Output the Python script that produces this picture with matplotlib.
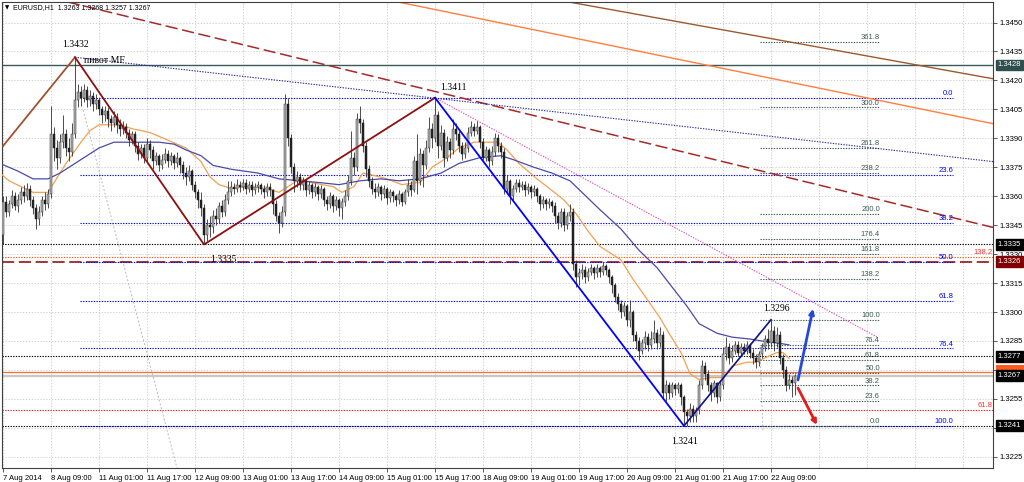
import numpy as np
import matplotlib
matplotlib.use('Agg')
import matplotlib.pyplot as plt
from matplotlib.transforms import blended_transform_factory
from matplotlib.patches import Rectangle

# ---------------- data (prices in pips: 3357 -> 1.3357) ----------------
first_open = 3340
closes = [
    3357, 3352, 3356, 3360, 3355, 3358, 3362, 3360, 3364, 3358,
    3354, 3348, 3352, 3358, 3356, 3361, 3392, 3385, 3380, 3388,
    3392, 3385, 3383, 3392, 3410, 3414, 3411, 3415, 3410, 3412,
    3408, 3410, 3405, 3402, 3404, 3400, 3398, 3401, 3397, 3395,
    3396, 3393, 3389, 3392, 3386, 3382, 3385, 3380, 3387, 3384,
    3378, 3381, 3376, 3379, 3382, 3378, 3381, 3377, 3380, 3376,
    3372, 3370, 3373, 3366, 3362, 3358, 3354, 3340, 3345, 3344,
    3350, 3348, 3355, 3352, 3358, 3362, 3365, 3364, 3366, 3365,
    3367, 3364, 3366, 3363, 3365, 3366, 3364, 3362, 3365, 3363,
    3356, 3350, 3346, 3352, 3408, 3390, 3375, 3368, 3370, 3366,
    3368, 3363, 3366, 3362, 3365, 3361, 3364, 3358, 3356, 3360,
    3355, 3358, 3354, 3357, 3360, 3368, 3380, 3375, 3400, 3398,
    3386, 3374, 3368, 3364, 3362, 3365, 3361, 3364, 3359, 3362,
    3360, 3358, 3361, 3357, 3362, 3366, 3363, 3378, 3368, 3382,
    3376, 3385, 3395, 3390, 3402, 3386, 3393, 3380, 3388, 3384,
    3395, 3392, 3386, 3382, 3385, 3393, 3396, 3394, 3396, 3388,
    3380, 3384, 3378, 3383, 3390, 3386, 3383, 3364, 3368, 3360,
    3364, 3367, 3365, 3366, 3363, 3365, 3362, 3364, 3360, 3356,
    3358, 3356, 3357, 3355, 3350, 3346, 3352, 3345, 3350, 3352,
    3325, 3318, 3320, 3322, 3318, 3321, 3323, 3320, 3323, 3321,
    3324, 3322, 3318, 3314, 3308, 3304, 3300, 3303, 3296, 3300,
    3288, 3285, 3280, 3284, 3287, 3283, 3286, 3289, 3284, 3288,
    3258, 3262, 3258, 3262, 3260, 3262, 3256, 3248, 3246, 3250,
    3246, 3249, 3262, 3272, 3268, 3262, 3258, 3263, 3256, 3262,
    3278, 3282, 3276, 3280, 3283, 3279, 3282, 3280, 3283, 3279,
    3276, 3274, 3278, 3282, 3286, 3284, 3290, 3284, 3288, 3276,
    3270, 3262, 3265, 3263, 3267]
highs = [
    3360, 3360, 3358, 3363, 3362, 3361, 3365, 3366, 3367, 3366,
    3360, 3356, 3355, 3360, 3362, 3364, 3407, 3396, 3389, 3392,
    3402, 3395, 3390, 3398, 3432, 3418, 3417, 3418, 3417, 3415,
    3414, 3413, 3411, 3407, 3407, 3406, 3402, 3404, 3403, 3400,
    3399, 3398, 3395, 3394, 3394, 3388, 3387, 3387, 3390, 3389,
    3386, 3383, 3382, 3382, 3385, 3384, 3383, 3382, 3383, 3381,
    3378, 3375, 3376, 3374, 3368, 3364, 3362, 3356, 3348, 3350,
    3353, 3354, 3357, 3358, 3361, 3368, 3368, 3367, 3369, 3368,
    3369, 3369, 3368, 3368, 3367, 3368, 3367, 3366, 3367, 3367,
    3364, 3358, 3352, 3355, 3413, 3411, 3392, 3377, 3373, 3372,
    3370, 3369, 3368, 3367, 3367, 3366, 3366, 3365, 3360, 3362,
    3361, 3360, 3359, 3359, 3363, 3371, 3394, 3383, 3403, 3407,
    3400, 3388, 3376, 3370, 3367, 3367, 3366, 3366, 3365, 3364,
    3363, 3361, 3363, 3362, 3364, 3369, 3368, 3381, 3392, 3385,
    3384, 3389, 3401, 3398, 3411, 3404, 3397, 3395, 3391, 3390,
    3400, 3398, 3394, 3388, 3388, 3396, 3399, 3398, 3399, 3397,
    3390, 3386, 3385, 3386, 3393, 3392, 3388, 3385, 3371, 3369,
    3366, 3369, 3369, 3368, 3368, 3367, 3366, 3366, 3365, 3361,
    3360, 3359, 3359, 3358, 3357, 3352, 3354, 3354, 3352, 3356,
    3354, 3327, 3323, 3325, 3324, 3323, 3325, 3324, 3325, 3324,
    3326, 3325, 3323, 3319, 3315, 3310, 3306, 3305, 3304, 3306,
    3301, 3290, 3287, 3286, 3290, 3289, 3290, 3296, 3291, 3292,
    3290, 3265, 3264, 3264, 3263, 3264, 3263, 3257, 3250, 3253,
    3252, 3251, 3265, 3275, 3274, 3270, 3264, 3265, 3264, 3265,
    3282, 3287, 3284, 3283, 3285, 3285, 3284, 3284, 3285, 3284,
    3281, 3278, 3280, 3284, 3288, 3291, 3296, 3293, 3292, 3290,
    3278, 3272, 3268, 3267, 3268]
lows = [
    3335, 3349, 3350, 3354, 3353, 3352, 3356, 3357, 3358, 3355,
    3351, 3343, 3345, 3350, 3353, 3354, 3359, 3378, 3374, 3377,
    3385, 3381, 3378, 3381, 3390, 3406, 3407, 3409, 3406, 3407,
    3404, 3405, 3402, 3398, 3399, 3396, 3394, 3396, 3393, 3391,
    3392, 3390, 3386, 3387, 3383, 3379, 3380, 3377, 3378, 3380,
    3374, 3376, 3373, 3374, 3377, 3375, 3376, 3374, 3375, 3372,
    3369, 3366, 3368, 3363, 3359, 3354, 3350, 3335, 3337, 3339,
    3341, 3345, 3346, 3349, 3350, 3356, 3360, 3361, 3362, 3362,
    3363, 3361, 3362, 3360, 3361, 3362, 3361, 3359, 3360, 3360,
    3351, 3347, 3341, 3344, 3350, 3386, 3372, 3362, 3365, 3363,
    3363, 3360, 3361, 3359, 3360, 3358, 3359, 3355, 3353, 3354,
    3352, 3353, 3350, 3348, 3355, 3358, 3366, 3371, 3373, 3393,
    3383, 3370, 3365, 3361, 3359, 3360, 3358, 3359, 3356, 3357,
    3357, 3355, 3356, 3355, 3356, 3360, 3360, 3362, 3361, 3366,
    3365, 3374, 3383, 3385, 3388, 3380, 3384, 3375, 3378, 3380,
    3382, 3389, 3383, 3379, 3380, 3383, 3391, 3391, 3392, 3385,
    3378, 3378, 3375, 3376, 3381, 3383, 3380, 3361, 3361, 3356,
    3358, 3362, 3362, 3363, 3360, 3361, 3359, 3360, 3357, 3353,
    3354, 3353, 3354, 3352, 3346, 3343, 3344, 3342, 3343, 3347,
    3322, 3313, 3314, 3317, 3315, 3316, 3319, 3317, 3318, 3318,
    3319, 3319, 3315, 3310, 3305, 3301, 3297, 3298, 3293, 3292,
    3285, 3281, 3275, 3278, 3281, 3280, 3281, 3284, 3281, 3282,
    3255, 3254, 3255, 3256, 3257, 3258, 3252, 3242, 3241, 3243,
    3243, 3243, 3247, 3260, 3265, 3259, 3254, 3256, 3253, 3254,
    3260, 3275, 3273, 3274, 3278, 3277, 3277, 3278, 3278, 3276,
    3273, 3271, 3272, 3276, 3280, 3281, 3282, 3280, 3282, 3273,
    3266, 3259, 3260, 3256, 3257]

# moving averages (bar index, pips)
ma_fast_bars = [-1, 2, 6, 10, 15, 17, 21, 26, 29, 32, 36, 39, 43, 49, 55, 61, 66, 69, 72, 76,
                81, 88, 92, 96, 99, 103, 110, 113, 117, 120, 123, 128, 133, 137, 139, 143, 148,
                152, 157, 160, 165, 168, 172, 178, 183, 187, 191, 195, 199, 206, 210, 215, 219,
                222, 226, 229, 232, 236, 240, 243, 248, 251, 255, 258, 260, 262]
ma_fast_vals = [3372, 3368, 3365, 3362, 3362, 3367, 3377, 3388, 3394, 3397, 3397, 3397, 3395,
                3393, 3389, 3385, 3378, 3370, 3366, 3364, 3365, 3364, 3362, 3366, 3369, 3367,
                3365, 3362, 3365, 3372, 3371, 3369, 3366, 3367, 3367, 3375, 3380, 3385, 3388,
                3388, 3388, 3384, 3377, 3369, 3363, 3358, 3351, 3342, 3334, 3327, 3317, 3306,
                3297, 3289, 3279, 3268, 3265, 3266, 3266, 3272, 3274, 3274, 3277, 3279, 3279, 3276]
ma_slow_bars = [-1, 5, 10, 15, 19, 23, 28, 32, 37, 41, 46, 52, 57, 61, 66, 70, 76, 85, 92, 99,
                106, 112, 119, 126, 132, 139, 146, 152, 159, 166, 170, 177, 183, 189, 193, 199,
                206, 212, 218, 223, 228, 232, 238, 243, 249, 253, 258, 262]
ma_slow_vals = [3377, 3373, 3369, 3369, 3372, 3376, 3381, 3385, 3388, 3388, 3388, 3388, 3387,
                3384, 3381, 3376, 3374, 3372, 3369, 3368, 3367, 3366, 3368, 3369, 3368, 3369,
                3372, 3377, 3380, 3381, 3379, 3375, 3372, 3368, 3362, 3353, 3343, 3332, 3323,
                3313, 3303, 3294, 3289, 3287, 3286, 3285, 3284, 3283]

# zigzag swing points
zz_bars = [0, 24, 67, 144, 227, 256]
zz_prices = [1.3386, 1.3432, 1.3335, 1.3411, 1.3241, 1.3296]

# horizontal levels
lvl_pivot = 1.3428
lvl_black = [1.3335, 1.3277, 1.3241]
lvl_maroon = 1.3326
lvl_orange = 1.3269
lvl_bid = 1.3267
red_fib_prices = [1.33285, 1.32492]
red_fib_labels = ['138.2', '61.8']

# fibonacci retracement (blue) 1.3411 -> 1.3241
fib_levels = [0.0, 23.6, 38.2, 50.0, 61.8, 76.4, 100.0]
fib_hi, fib_lo = 1.3411, 1.3241
# fibonacci expansion (grey) from 1.3241 with range 1.3296-1.3241
exp_levels = [0.0, 23.6, 38.2, 50.0, 61.8, 76.4, 100.0, 138.2, 161.8, 176.4, 200.0,
              238.2, 261.8, 300.0, 361.8]
exp_base, exp_top = 1.3241, 1.3296

# trend lines: (bars, prices) anchor pairs
tl_brown = ([245.67, 304.67], [1.34446, 1.3428])
tl_orange = ([245.67, 329.0], [1.34244, 1.33979])
tl_maroon = ([23.0, 328.0], [1.34601, 1.33446])
tl_bluedot = ([24.0, 328.0], [1.3432, 1.33783])
tl_pink = ([144.0, 291.3], [1.3411, 1.32871])
tl_grey = ([26.7, 58.0], [1.34047, 1.32192])
tl_grey2 = ([252.3, 253.3], [1.3282, 1.3238])

# arrows (tail bar, tail price, tip bar, tip price)
arrow_up = (265.0, 1.32648, 270.0, 1.33017)
arrow_dn = (265.0, 1.32606, 271.3, 1.32415)

xtick_labels = ['7 Aug 2014', '8 Aug 09:00', '11 Aug 01:00', '11 Aug 17:00', '12 Aug 09:00',
                '13 Aug 01:00', '13 Aug 17:00', '14 Aug 09:00', '15 Aug 01:00', '15 Aug 17:00',
                '18 Aug 09:00', '19 Aug 01:00', '19 Aug 17:00', '20 Aug 09:00', '21 Aug 01:00',
                '21 Aug 17:00', '22 Aug 09:00']
ytick_vals = [1.3225, 1.3240, 1.3255, 1.3270, 1.3285, 1.3300, 1.3315, 1.3330, 1.3345, 1.3360,
              1.3375, 1.3390, 1.3405, 1.3420, 1.3435, 1.3450]
ytick_hidden = [1.3240, 1.3270]   # covered by price boxes in the original
header = 'EURUSD,H1  1.3263 1.3268 1.3257 1.3267'

# ---------------- figure ----------------
W, H = 1024, 482
fig = plt.figure(figsize=(W / 100, H / 100), dpi=100)
fig.patch.set_facecolor('white')
ax = fig.add_axes([2 / W, 14 / H, (993 - 2) / W, (480 - 14) / H])
ax.set_xlim(-0.33, 330.0)
ax.set_ylim(1.321919, 1.346064)

AX_FONT = 'Liberation Sans'
SERIF = 'Liberation Serif'

def p(v):
    return 1 + np.asarray(v, dtype=float) / 10000.0

c = p(closes)
h = p(highs)
l = p(lows)
o = np.concatenate([[p(first_open)], c[:-1]])
xb = np.arange(len(c))

# grid
grid_kw = dict(color='#c6c6c6', lw=0.6, ls=(0, (1.5, 2.0)), zorder=0)
for gx in range(0, 330, 16):
    ax.axvline(gx, **grid_kw)
for gy in ytick_vals:
    ax.axhline(gy, **grid_kw)

dot = (0, (1.2, 1.2))

# horizontal lines
ax.axhline(lvl_pivot, color='#3b5b5b', lw=1.0, zorder=2)
for lv in lvl_black:
    ax.axhline(lv, color='black', lw=0.8, ls=dot, zorder=2)
ax.axhline(lvl_maroon, color='#8b0000', lw=1.1, ls=(0, (8, 3)), zorder=2)
ax.axhline(lvl_bid, color='#c8c8c8', lw=1.6, zorder=1)
ax.axhline(lvl_orange, color='#ff6a2a', lw=0.9, zorder=2)
ax.axhline(red_fib_prices[0], color='#ff5a1f', lw=0.8, ls=dot, zorder=2)
ax.axhline(red_fib_prices[1], color='#ff2020', lw=0.8, ls=dot, zorder=2)
for pr, lab in zip(red_fib_prices, red_fib_labels):
    ax.annotate(lab, xy=(330.0, pr), xytext=(-0.5, 0.8), textcoords='offset points',
                ha='right', va='bottom', fontsize=5.5, family=AX_FONT, color='#ff3030', zorder=6)

# blue fib retracement
fib_x0, fib_x1 = 25.7, 316.7
for lv in fib_levels:
    pr = fib_hi - lv / 100.0 * (fib_hi - fib_lo)
    ax.plot([fib_x0, fib_x1], [pr, pr], color='#0000ff', lw=0.8, ls=dot, zorder=2)
    ax.annotate(f'{lv:.1f}', xy=(fib_x1, pr), xytext=(0, 0.6), textcoords='offset points',
                ha='right', va='bottom', fontsize=5.5, family=AX_FONT, color='#0000ff', zorder=6)

# grey fib expansion
exp_x0, exp_x1 = 252.3, 292.3
for lv in exp_levels:
    pr = exp_base + lv / 100.0 * (exp_top - exp_base)
    ax.plot([exp_x0, exp_x1], [pr, pr], color='#3c5a52', lw=0.8, ls=dot, zorder=2)
    ax.annotate(f'{lv:.1f}', xy=(exp_x1, pr), xytext=(0, 0.6), textcoords='offset points',
                ha='right', va='bottom', fontsize=5.5, family=AX_FONT, color='#3c5a52', zorder=6)

# trend lines
def ext(line, **kw):
    (x0, x1), (y0, y1) = line
    ax.axline((x0, y0), (x1, y1), **kw)

ext(tl_brown, color='#9c5a2e', lw=1.0, zorder=2)
ext(tl_orange, color='#ff7f3f', lw=1.0, zorder=2)
ext(tl_maroon, color='#a52a2a', lw=1.1, ls=(0, (8, 3)), zorder=2)
bx0, bx1 = tl_bluedot[0]
by0, by1 = tl_bluedot[1]
ax.plot([bx0, 330], [by0, by0 + (by1 - by0) * (330 - bx0) / (bx1 - bx0)],
        color='#2a2aa0', lw=0.8, ls=dot, zorder=2)
ax.plot(*tl_pink, color='#e050b0', lw=0.8, ls=dot, zorder=2)
ax.plot(*tl_grey, color='#b8b8b8', lw=0.7, ls=(0, (2, 2)), zorder=1)
ax.plot(*tl_grey2, color='#b8b8b8', lw=0.7, ls=(0, (2, 2)), zorder=1)

# moving averages
ax.plot(ma_fast_bars, p(ma_fast_vals), color='#f4a050', lw=0.9, zorder=3)
ax.plot(ma_slow_bars, p(ma_slow_vals), color='#4a4aa8', lw=0.9, zorder=3)

# candles
ax.vlines(xb, l, h, color='#303030', lw=0.6, zorder=4)
bull = c >= o
body_lo = np.minimum(o, c)
body_h = np.maximum(np.abs(c - o), 0.00003)
ax.bar(xb[bull], body_h[bull], bottom=body_lo[bull], width=0.62, color='#b4b4b4',
       edgecolor='#303030', linewidth=0.35, zorder=5)
ax.bar(xb[~bull], body_h[~bull], bottom=body_lo[~bull], width=0.62, color='#202020',
       edgecolor='#202020', linewidth=0.35, zorder=5)

# zigzag
ax.plot(zz_bars[0:2], zz_prices[0:2], color='#a0522d', lw=1.3, zorder=6)
ax.plot(zz_bars[1:4], zz_prices[1:4], color='#8b1010', lw=1.3, zorder=6)
ax.plot(zz_bars[3:5], zz_prices[3:5], color='#0000ff', lw=1.3, zorder=6)
ax.plot(zz_bars[4:6], zz_prices[4:6], color='#10108c', lw=1.2, zorder=6)

# swing labels (order: 1.3432, 1.3335, 1.3411, 1.3241, 1.3296)
offs = [(0.7, 9.4), (13.7, -10.8), (13.0, 7.2), (0.7, -11.5), (3.6, 7.9)]
for (bx, pr), off in zip(list(zip(zz_bars, zz_prices))[1:], offs):
    ax.annotate(f'{pr:.4f}', xy=(bx, pr), xytext=off, textcoords='offset points',
                ha='center', va='center', fontsize=7, family=SERIF, color='black', zorder=7)
ax.annotate('пивот МF', xy=(zz_bars[1], zz_prices[1]), xytext=(6.5, -2.5), textcoords='offset points',
            ha='left', va='center', fontsize=7, family=SERIF, color='black', zorder=7)

# arrows
ax.annotate('', xy=arrow_up[2:], xytext=arrow_up[:2],
            arrowprops=dict(arrowstyle='-|>', color='#2848d8', lw=2.0, mutation_scale=7, shrinkA=0, shrinkB=0), zorder=7)
ax.annotate('', xy=arrow_dn[2:], xytext=arrow_dn[:2],
            arrowprops=dict(arrowstyle='-|>', color='#e41c1c', lw=2.0, mutation_scale=7, shrinkA=0, shrinkB=0), zorder=7)

# axes / ticks
for s in ax.spines.values():
    s.set_color('#404040')
    s.set_linewidth(0.8)
ax.yaxis.tick_right()
ax.set_yticks(ytick_vals)
ax.set_yticklabels(['' if any(abs(v - hv) < 1e-9 for hv in ytick_hidden) else f'{v:.4f}'
                    for v in ytick_vals], fontsize=5.5, family=AX_FONT)
ax.set_xticks(list(range(0, 257, 16)))
ax.set_xticklabels(xtick_labels, fontsize=5.5, family=AX_FONT, ha='left')
ax.tick_params(axis='both', length=3, width=0.6, color='#404040', pad=1.5)
ax.tick_params(axis='x', pad=2)

# price boxes on the axis
trans = blended_transform_factory(ax.transAxes, ax.transData)
# the 1.3269 line box is almost fully hidden behind the bid box: draw only its visible edge
ax.add_patch(Rectangle((1.0 + 3.5 / 991, lvl_orange - 0.00005), 28 / 991, 0.00040,
                       transform=trans, facecolor='#ff5a1f', edgecolor='none',
                       clip_on=False, zorder=7))
boxes = [(1.3428, '#2f4f4f'), (1.3335, 'black'), (1.3326, '#800000'), (1.3277, 'black'),
         (1.3267, 'black'), (1.3241, 'black')]
for pr, col in boxes:
    ax.annotate(f'{pr:.4f}', xy=(1.0, pr), xycoords=trans, xytext=(3.2, 0), textcoords='offset points',
                ha='left', va='center', fontsize=5.5, family=AX_FONT, color='white',
                bbox=dict(boxstyle='square,pad=0.25', fc=col, ec=col), annotation_clip=False, zorder=8)

# header
fig.text(5 / W, 1 - 8 / H, '▼', fontsize=4, family='DejaVu Sans', va='center', ha='left')
fig.text(13 / W, 1 - 8 / H, header, fontsize=5.0, family=AX_FONT, va='center', ha='left')

fig.savefig('out.png', dpi=100, facecolor='white')
